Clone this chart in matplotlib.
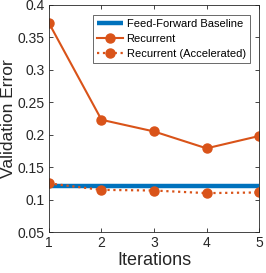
import matplotlib
matplotlib.use('Agg')
import matplotlib.pyplot as plt

iterations = [1, 2, 3, 4, 5]
baseline = 0.121
recurrent = [0.372, 0.223, 0.205, 0.179, 0.198]
recurrent_acc = [0.125, 0.115, 0.114, 0.110, 0.111]

blue = '#0072BD'
orange = '#D95319'

plt.rcParams['font.family'] = ['Liberation Sans', 'DejaVu Sans']

fig = plt.figure(figsize=(2.66, 2.73), dpi=100)
ax = fig.add_axes([0.184, 0.150, 0.790, 0.832])

ax.plot([iterations[0], iterations[-1]], [baseline, baseline], color=blue, lw=3.2,
        label='Feed-Forward Baseline', solid_capstyle='butt')
ax.plot(iterations, recurrent, color=orange, lw=1.5, marker='o', ms=6.5,
        label='Recurrent')
ax.plot(iterations, recurrent_acc, color=orange, lw=1.6, ls=':', marker='o', ms=6.5,
        label='Recurrent (Accelerated)')

ax.set_xlim(1, 5)
ax.set_ylim(0.05, 0.4)
ax.set_xticks(iterations)
ax.set_yticks([0.05, 0.1, 0.15, 0.2, 0.25, 0.3, 0.35, 0.4])
ax.set_yticklabels(['0.05', '0.1', '0.15', '0.2', '0.25', '0.3', '0.35', '0.4'])
ax.tick_params(direction='in', length=3, width=0.6, labelsize=10, colors='#262626',
               top=True, right=True, pad=3)
for s in ax.spines.values():
    s.set_linewidth(0.6)
    s.set_color('#262626')

ax.set_xlabel('Iterations', fontsize=13, color='#262626', labelpad=1)
ax.set_ylabel('Validation Error', fontsize=12.5, color='#262626', labelpad=1)

leg = ax.legend(loc='upper right', fontsize=8, frameon=True, fancybox=False,
                edgecolor='#262626', handlelength=2.4, borderpad=0.35,
                labelspacing=0.45, handletextpad=0.3, borderaxespad=0,
                bbox_to_anchor=(0.955, 0.955))
leg.get_frame().set_linewidth(0.6)

fig.savefig('out.png', dpi=100)
